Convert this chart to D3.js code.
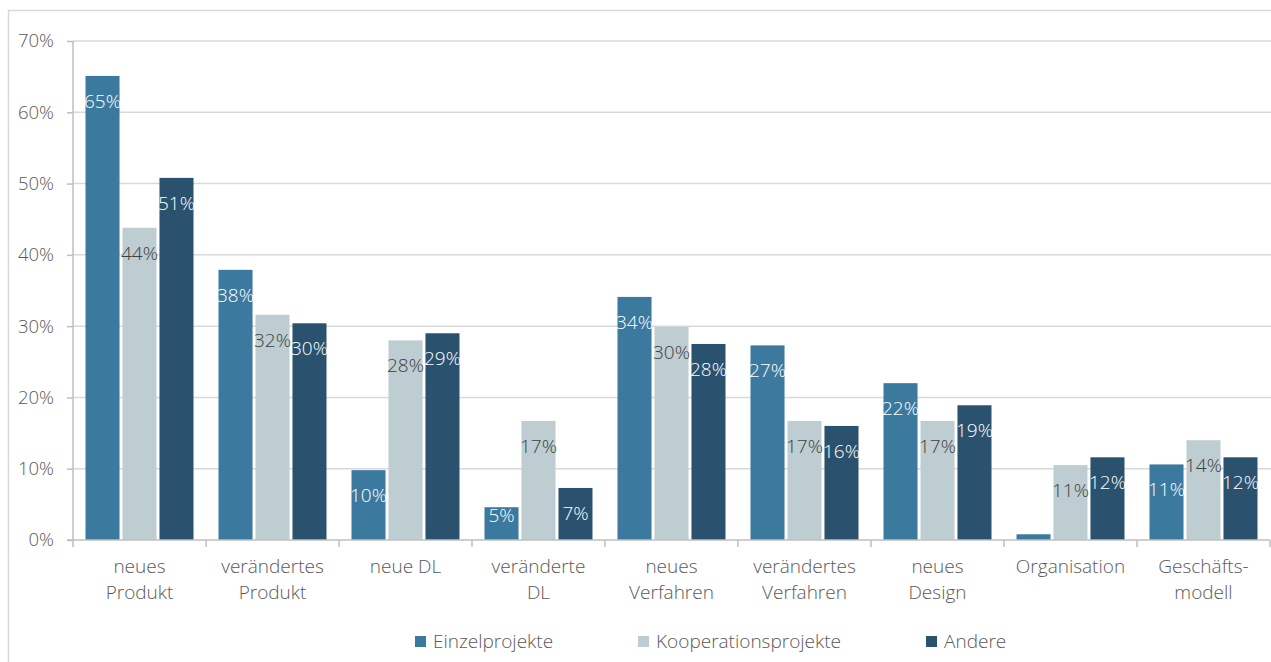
<!DOCTYPE html>
<html>
<head>
<meta charset="utf-8">
<script src="https://cdn.jsdelivr.net/npm/d3@7"></script>
<style>
  html, body { margin: 0; padding: 0; background: #ffffff; }
  svg { display: block; font-family: "Open Sans", sans-serif; }
</style>
</head>
<body>
<svg id="chart" width="1271" height="662"></svg>
<script>
const categories = [
  ["neues", "Produkt"],
  ["verändertes", "Produkt"],
  ["neue DL"],
  ["veränderte", "DL"],
  ["neues", "Verfahren"],
  ["verändertes", "Verfahren"],
  ["neues", "Design"],
  ["Organisation"],
  ["Geschäfts-", "modell"]
];
const seriesNames = ["Einzelprojekte", "Kooperationsprojekte", "Andere"];
const einzelprojekte = [65.1, 37.9, 9.8, 4.6, 34.1, 27.3, 22.0, 0.8, 10.6];
const kooperationsprojekte = [43.8, 31.6, 28.0, 16.7, 29.9, 16.7, 16.7, 10.5, 14.0];
const andere = [50.8, 30.4, 29.0, 7.3, 27.5, 16.0, 18.9, 11.6, 11.6];
const yTicks = [0, 10, 20, 30, 40, 50, 60, 70];
const colors = ["#3b799e", "#bdcdd2", "#2a526e"];
const labelColors = ["#ffffff", "#404040", "#ffffff"];

const seriesValues = [einzelprojekte, kooperationsprojekte, andere];
const svg = d3.select("#chart");

// chart frame
svg.append("rect").attr("x", 8.5).attr("y", 10.5).attr("width", 1300).attr("height", 700)
  .attr("fill", "none").attr("stroke", "#d9d9d9").attr("stroke-width", 1.5);

const mLeft = 73, mRight = 1270, mTop = 41, mBottom = 540;
const x0 = d3.scaleBand().domain(d3.range(categories.length)).range([mLeft, mRight]).paddingInner(0).paddingOuter(0);
const x1 = d3.scaleBand().domain(d3.range(3)).range([12.5, x0.bandwidth() - 12.5]).paddingInner(0.08);
const y = d3.scaleLinear().domain([0, 70]).range([mBottom, mTop]);

// gridlines
svg.append("g").selectAll("line").data(yTicks.filter(t => t > 0)).join("line")
  .attr("x1", mLeft).attr("x2", 1271).attr("y1", d => y(d)).attr("y2", d => y(d))
  .attr("stroke", "#d9d9d9").attr("stroke-width", 1.5);

// y axis
const yAxis = d3.axisLeft(y).tickValues(yTicks).tickSize(6).tickPadding(13).tickFormat(d => d + "%");
const gy = svg.append("g").attr("transform", `translate(${mLeft},0)`).call(yAxis);
gy.select(".domain").attr("stroke", "#bfbfbf").attr("stroke-width", 1.5).attr("d", `M0,${mBottom}V${mTop}`);
gy.selectAll(".tick line").attr("stroke", "#bfbfbf").attr("stroke-width", 1.5);
gy.selectAll(".tick text").attr("fill", "#595959").style("font-size", "18.5px").style("font-family", "Open Sans").style("font-weight", 300);

// bars
const groups = svg.append("g").selectAll("g").data(categories).join("g")
  .attr("transform", (d, i) => `translate(${x0(i)},0)`);
groups.selectAll("rect").data((d, i) => seriesValues.map((s, k) => ({k, v: s[i]}))).join("rect")
  .attr("x", d => x1(d.k)).attr("width", x1.bandwidth())
  .attr("y", d => y(d.v)).attr("height", d => y(0) - y(d.v))
  .attr("fill", d => colors[d.k]);
groups.selectAll("text.lbl").data((d, i) => seriesValues.map((s, k) => ({k, v: s[i]})).filter(d => d.v >= 2)).join("text")
  .attr("class", "lbl")
  .attr("x", d => x1(d.k) + x1.bandwidth() / 2)
  .attr("y", d => Math.min(y(d.v) + 32, mBottom - 18))
  .attr("text-anchor", "middle")
  .attr("fill", d => labelColors[d.k])
  .style("font-size", "19px").style("font-weight", 300)
  .text(d => Math.round(d.v) + "%");

// x axis line and ticks
svg.append("line").attr("x1", mLeft - 6).attr("x2", mRight).attr("y1", mBottom).attr("y2", mBottom)
  .attr("stroke", "#bfbfbf").attr("stroke-width", 1.5);
svg.append("g").selectAll("line").data(d3.range(categories.length + 1)).join("line")
  .attr("x1", i => mLeft + i * x0.step()).attr("x2", i => mLeft + i * x0.step())
  .attr("y1", mBottom).attr("y2", mBottom + 7)
  .attr("stroke", "#bfbfbf").attr("stroke-width", 1.5);

// category labels
const cl = svg.append("g").selectAll("text").data(categories).join("text")
  .attr("x", (d, i) => x0(i) + x0.bandwidth() / 2)
  .attr("y", 573)
  .attr("text-anchor", "middle").attr("fill", "#595959")
  .style("font-size", "19px").style("font-weight", 300);
cl.selectAll("tspan").data(d => d).join("tspan")
  .attr("x", function() { return this.parentNode.getAttribute("x"); })
  .attr("dy", (d, j) => j === 0 ? 0 : 26)
  .text(d => d);

// legend
const legend = svg.append("g");
let lx = 415;
seriesNames.forEach((name, k) => {
  legend.append("rect").attr("x", lx).attr("y", 636).attr("width", 11).attr("height", 11).attr("fill", colors[k]);
  const t = legend.append("text").attr("x", lx + 18).attr("y", 648).attr("fill", "#595959")
    .style("font-size", "19px").style("font-weight", 300).text(name);
  lx += 18 + t.node().getComputedTextLength() + 85;
});
</script>
</body>
</html>
